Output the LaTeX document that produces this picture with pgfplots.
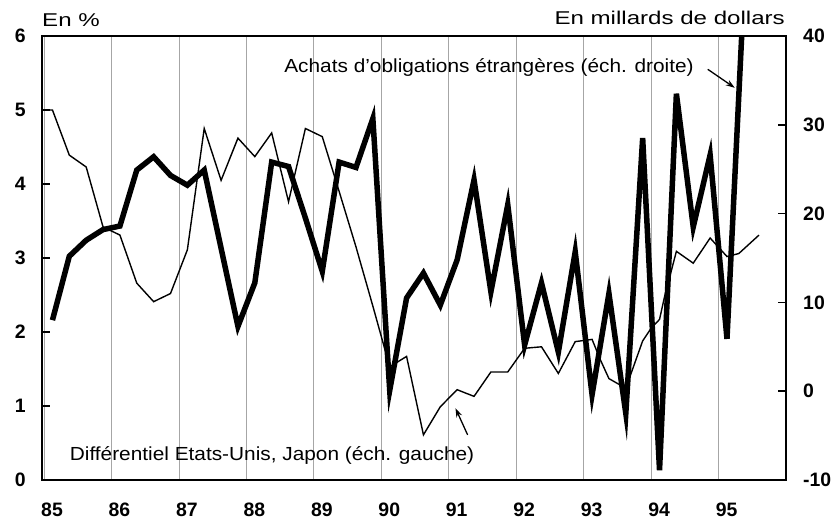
\documentclass[border=0pt]{standalone}
\usepackage{pgfplots}
\pgfplotsset{compat=1.18}
\usetikzlibrary{arrows.meta}
\usepackage{fontspec}
\setmainfont{Liberation Sans}
\newfontfamily\annfont[FakeStretch=1.1]{Liberation Sans}
\newfontfamily\titfont[FakeStretch=1.3]{Liberation Sans}
\begin{document}
\begin{tikzpicture}
\pgfplotsset{
  base/.style={
    scale only axis, width=744bp, height=444bp,
    xmin=84.97, xmax=96,
    at={(0bp,0bp)}, anchor=south west,
    tick label style={font=\fontsize{19.5}{20}\selectfont\bfseries},
    axis line style={line width=2.6bp, black},
    major tick length=8bp, tick align=inside,
    ytick style={line width=1.6bp, black},
  }
}
\begin{axis}[base,
  ymin=0, ymax=6,
  ytick={0,1,2,3,4,5,6}, yticklabels={0,1,2,3,4,5,6},
  ytick pos=left,
  yticklabel style={anchor=east, inner sep=0pt, xshift=-16bp},
  xtick={85,86,87,88,89,90,91,92,93,94,95},
  xticklabels={85,86,87,88,89,90,91,92,93,94,95},
  xticklabel style={anchor=north west, inner sep=0pt, xshift=-3bp, yshift=-23bp},
  xtick style={draw=none},
  xmajorgrids, major x grid style={line width=0.8bp, gray!70},
]
\addplot[black, line width=1.4bp] coordinates {
(85.0,5.0)(85.125,5.0)(85.375,4.39)(85.625,4.23)(85.875,3.42)
(86.125,3.31)(86.375,2.66)(86.625,2.41)(86.875,2.52)
(87.125,3.11)(87.375,4.75)(87.625,4.05)(87.875,4.62)
(88.125,4.37)(88.375,4.69)(88.625,3.76)(88.875,4.75)
(89.125,4.64)(89.375,3.9)(89.625,3.15)(89.875,2.35)
(90.125,1.53)(90.375,1.67)(90.625,0.61)(90.875,0.99)
(91.125,1.22)(91.375,1.13)(91.625,1.46)(91.875,1.46)
(92.125,1.78)(92.375,1.80)(92.625,1.44)(92.875,1.87)
(93.125,1.90)(93.25,1.62)(93.375,1.37)(93.625,1.24)(93.875,1.88)
(94.0,2.05)(94.125,2.17)(94.2,2.48)(94.375,3.09)(94.625,2.93)(94.875,3.27)
(95.125,3.02)(95.3,3.06)(95.6,3.31)
};
\node[anchor=base west, inner sep=0pt, font=\annfont\fontsize{19}{20}\selectfont]
  at (axis cs:88.56,5.51) {Achats d’obligations étrangères (éch. droite)};
\node[anchor=base west, inner sep=0pt, font=\annfont\fontsize{19}{20}\selectfont]
  at (axis cs:85.38,0.27) {Différentiel Etats-Unis, Japon (éch. gauche)};
\draw[line width=1.3bp, -{Stealth[length=9bp,width=6bp]}] (axis cs:94.84,5.55) -- (axis cs:95.24,5.30);
\draw[line width=1.3bp, -{Stealth[length=9bp,width=6bp]}] (axis cs:91.28,0.61) -- (axis cs:91.10,0.97);
\end{axis}
\begin{axis}[base,
  ymin=-10, ymax=40,
  axis y line*=right, axis x line=none,
  ytick={-10,0,10,20,30,40}, yticklabels={-10,0,10,20,30,40},
  yticklabel style={anchor=west, inner sep=0pt, xshift=17bp},
]
\addplot[black, line width=5.5bp] coordinates {
(85.125,8.0)(85.375,15.2)(85.625,17.0)(85.875,18.2)
(86.125,18.6)(86.375,24.9)(86.625,26.4)(86.875,24.3)
(87.125,23.2)(87.375,24.9)(87.625,16.1)(87.875,7.3)
(88.125,12.2)(88.375,25.8)(88.625,25.3)(88.875,19.5)
(89.125,13.5)(89.375,25.8)(89.625,25.2)(89.875,30.7)
(90.125,0.1)(90.375,10.5)(90.625,13.3)(90.875,9.7)
(91.125,14.8)(91.375,23.8)(91.625,11.2)(91.875,21.0)
(92.125,5.2)(92.375,12.2)(92.625,4.4)(92.875,15.7)
(93.125,-0.4)(93.375,11.0)(93.625,-2.5)(93.875,28.5)
(94.125,-8.9)(94.375,33.5)(94.625,18.5)(94.875,26.6)
(95.125,5.9)(95.375,45)
};
\end{axis}
\node[anchor=base west, inner sep=0pt, font=\titfont\fontsize{18.6}{20}\selectfont] at (0bp,453bp) {En \%};
\node[anchor=base east, inner sep=0pt, font=\titfont\fontsize{18.6}{20}\selectfont] at (743bp,455bp) {En millards de dollars};
\pgfresetboundingbox
\path[use as bounding box] (-42bp,-42bp) rectangle (796bp,480bp);
\end{tikzpicture}
\end{document}
